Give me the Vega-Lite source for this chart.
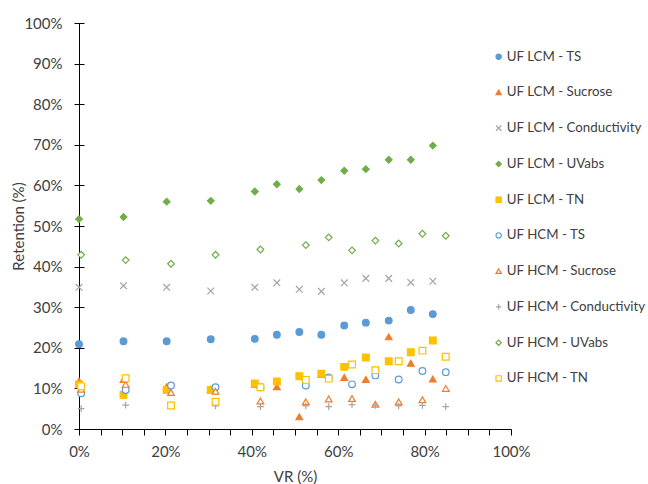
{
  "$schema": "https://vega.github.io/schema/vega-lite/v6.json",
  "width": 432,
  "height": 406,
  "autosize": {"type": "none"},
  "padding": {"left": 79, "top": 23, "right": 137, "bottom": 55},
  "background": "white",
  "config": {
    "view": {"stroke": null},
    "font": "Lato",
    "legend": {
      "title": null,
      "orient": "none",
      "legendX": 413,
      "legendY": 27,
      "padding": 0,
      "symbolSize": 28,
      "symbolStrokeWidth": 1.2,
      "labelFontSize": 13.3,
      "labelColor": "#404040",
      "labelOffset": 1.5,
      "rowPadding": 21.75,
      "labelLimit": 300
    }
  },
  "data": {"values": [
    {"series": "UF LCM - TS", "VR": 0, "Retention": 20.9},
    {"series": "UF LCM - TS", "VR": 10.3, "Retention": 21.6},
    {"series": "UF LCM - TS", "VR": 20.3, "Retention": 21.6},
    {"series": "UF LCM - TS", "VR": 30.5, "Retention": 22.1},
    {"series": "UF LCM - TS", "VR": 40.7, "Retention": 22.2},
    {"series": "UF LCM - TS", "VR": 45.8, "Retention": 23.2},
    {"series": "UF LCM - TS", "VR": 51.0, "Retention": 23.9},
    {"series": "UF LCM - TS", "VR": 56.1, "Retention": 23.2},
    {"series": "UF LCM - TS", "VR": 61.4, "Retention": 25.5},
    {"series": "UF LCM - TS", "VR": 66.4, "Retention": 26.2},
    {"series": "UF LCM - TS", "VR": 71.7, "Retention": 26.7},
    {"series": "UF LCM - TS", "VR": 76.8, "Retention": 29.3},
    {"series": "UF LCM - TS", "VR": 81.9, "Retention": 28.3},
    {"series": "UF LCM - Sucrose", "VR": 0, "Retention": 11.8},
    {"series": "UF LCM - Sucrose", "VR": 10.3, "Retention": 12.2},
    {"series": "UF LCM - Sucrose", "VR": 20.3, "Retention": 10.4},
    {"series": "UF LCM - Sucrose", "VR": 30.5, "Retention": 9.8},
    {"series": "UF LCM - Sucrose", "VR": 40.7, "Retention": 11.0},
    {"series": "UF LCM - Sucrose", "VR": 45.8, "Retention": 10.4},
    {"series": "UF LCM - Sucrose", "VR": 51.0, "Retention": 3.0},
    {"series": "UF LCM - Sucrose", "VR": 56.1, "Retention": 13.4},
    {"series": "UF LCM - Sucrose", "VR": 61.4, "Retention": 12.7},
    {"series": "UF LCM - Sucrose", "VR": 66.4, "Retention": 12.2},
    {"series": "UF LCM - Sucrose", "VR": 71.7, "Retention": 22.7},
    {"series": "UF LCM - Sucrose", "VR": 76.8, "Retention": 16.2},
    {"series": "UF LCM - Sucrose", "VR": 81.9, "Retention": 12.3},
    {"series": "UF LCM - Conductivity", "VR": 0, "Retention": 34.9},
    {"series": "UF LCM - Conductivity", "VR": 10.3, "Retention": 35.3},
    {"series": "UF LCM - Conductivity", "VR": 20.3, "Retention": 34.9},
    {"series": "UF LCM - Conductivity", "VR": 30.5, "Retention": 34.0},
    {"series": "UF LCM - Conductivity", "VR": 40.7, "Retention": 34.9},
    {"series": "UF LCM - Conductivity", "VR": 45.8, "Retention": 36.0},
    {"series": "UF LCM - Conductivity", "VR": 51.0, "Retention": 34.4},
    {"series": "UF LCM - Conductivity", "VR": 56.1, "Retention": 33.9},
    {"series": "UF LCM - Conductivity", "VR": 61.4, "Retention": 36.0},
    {"series": "UF LCM - Conductivity", "VR": 66.4, "Retention": 37.1},
    {"series": "UF LCM - Conductivity", "VR": 71.7, "Retention": 37.1},
    {"series": "UF LCM - Conductivity", "VR": 76.8, "Retention": 36.1},
    {"series": "UF LCM - Conductivity", "VR": 81.9, "Retention": 36.4},
    {"series": "UF LCM - UVabs", "VR": 0, "Retention": 51.7},
    {"series": "UF LCM - UVabs", "VR": 10.3, "Retention": 52.2},
    {"series": "UF LCM - UVabs", "VR": 20.3, "Retention": 56.0},
    {"series": "UF LCM - UVabs", "VR": 30.5, "Retention": 56.2},
    {"series": "UF LCM - UVabs", "VR": 40.7, "Retention": 58.5},
    {"series": "UF LCM - UVabs", "VR": 45.8, "Retention": 60.3},
    {"series": "UF LCM - UVabs", "VR": 51.0, "Retention": 59.1},
    {"series": "UF LCM - UVabs", "VR": 56.1, "Retention": 61.3},
    {"series": "UF LCM - UVabs", "VR": 61.4, "Retention": 63.6},
    {"series": "UF LCM - UVabs", "VR": 66.4, "Retention": 64.0},
    {"series": "UF LCM - UVabs", "VR": 71.7, "Retention": 66.3},
    {"series": "UF LCM - UVabs", "VR": 76.8, "Retention": 66.3},
    {"series": "UF LCM - UVabs", "VR": 81.9, "Retention": 69.8},
    {"series": "UF LCM - TN", "VR": 0, "Retention": 11.0},
    {"series": "UF LCM - TN", "VR": 10.3, "Retention": 8.4},
    {"series": "UF LCM - TN", "VR": 20.3, "Retention": 9.6},
    {"series": "UF LCM - TN", "VR": 30.5, "Retention": 9.6},
    {"series": "UF LCM - TN", "VR": 40.7, "Retention": 11.2},
    {"series": "UF LCM - TN", "VR": 45.8, "Retention": 11.7},
    {"series": "UF LCM - TN", "VR": 51.0, "Retention": 13.0},
    {"series": "UF LCM - TN", "VR": 56.1, "Retention": 13.6},
    {"series": "UF LCM - TN", "VR": 61.4, "Retention": 15.3},
    {"series": "UF LCM - TN", "VR": 66.4, "Retention": 17.6},
    {"series": "UF LCM - TN", "VR": 71.7, "Retention": 16.7},
    {"series": "UF LCM - TN", "VR": 76.8, "Retention": 18.9},
    {"series": "UF LCM - TN", "VR": 81.9, "Retention": 21.8},
    {"series": "UF HCM - TS", "VR": 0.5, "Retention": 8.8},
    {"series": "UF HCM - TS", "VR": 10.8, "Retention": 9.6},
    {"series": "UF HCM - TS", "VR": 21.3, "Retention": 10.7},
    {"series": "UF HCM - TS", "VR": 31.6, "Retention": 10.3},
    {"series": "UF HCM - TS", "VR": 42.0, "Retention": 10.3},
    {"series": "UF HCM - TS", "VR": 52.5, "Retention": 10.7},
    {"series": "UF HCM - TS", "VR": 57.8, "Retention": 12.7},
    {"series": "UF HCM - TS", "VR": 63.2, "Retention": 11.0},
    {"series": "UF HCM - TS", "VR": 68.6, "Retention": 13.2},
    {"series": "UF HCM - TS", "VR": 74.0, "Retention": 12.2},
    {"series": "UF HCM - TS", "VR": 79.5, "Retention": 14.3},
    {"series": "UF HCM - TS", "VR": 84.9, "Retention": 14.0},
    {"series": "UF HCM - Sucrose", "VR": 0.5, "Retention": 9.8},
    {"series": "UF HCM - Sucrose", "VR": 10.8, "Retention": 11.0},
    {"series": "UF HCM - Sucrose", "VR": 21.3, "Retention": 9.0},
    {"series": "UF HCM - Sucrose", "VR": 31.6, "Retention": 9.3},
    {"series": "UF HCM - Sucrose", "VR": 42.0, "Retention": 6.9},
    {"series": "UF HCM - Sucrose", "VR": 52.5, "Retention": 6.7},
    {"series": "UF HCM - Sucrose", "VR": 57.8, "Retention": 7.4},
    {"series": "UF HCM - Sucrose", "VR": 63.2, "Retention": 7.5},
    {"series": "UF HCM - Sucrose", "VR": 68.6, "Retention": 6.1},
    {"series": "UF HCM - Sucrose", "VR": 74.0, "Retention": 6.7},
    {"series": "UF HCM - Sucrose", "VR": 79.5, "Retention": 7.2},
    {"series": "UF HCM - Sucrose", "VR": 84.9, "Retention": 10.0},
    {"series": "UF HCM - Conductivity", "VR": 0.5, "Retention": 5.0},
    {"series": "UF HCM - Conductivity", "VR": 10.8, "Retention": 5.9},
    {"series": "UF HCM - Conductivity", "VR": 21.3, "Retention": 5.9},
    {"series": "UF HCM - Conductivity", "VR": 31.6, "Retention": 5.7},
    {"series": "UF HCM - Conductivity", "VR": 42.0, "Retention": 5.5},
    {"series": "UF HCM - Conductivity", "VR": 52.5, "Retention": 5.7},
    {"series": "UF HCM - Conductivity", "VR": 57.8, "Retention": 5.5},
    {"series": "UF HCM - Conductivity", "VR": 63.2, "Retention": 6.0},
    {"series": "UF HCM - Conductivity", "VR": 68.6, "Retention": 5.8},
    {"series": "UF HCM - Conductivity", "VR": 74.0, "Retention": 5.7},
    {"series": "UF HCM - Conductivity", "VR": 79.5, "Retention": 5.8},
    {"series": "UF HCM - Conductivity", "VR": 84.9, "Retention": 5.5},
    {"series": "UF HCM - UVabs", "VR": 0.5, "Retention": 42.9},
    {"series": "UF HCM - UVabs", "VR": 10.8, "Retention": 41.6},
    {"series": "UF HCM - UVabs", "VR": 21.3, "Retention": 40.7},
    {"series": "UF HCM - UVabs", "VR": 31.6, "Retention": 42.9},
    {"series": "UF HCM - UVabs", "VR": 42.0, "Retention": 44.2},
    {"series": "UF HCM - UVabs", "VR": 52.5, "Retention": 45.3},
    {"series": "UF HCM - UVabs", "VR": 57.8, "Retention": 47.2},
    {"series": "UF HCM - UVabs", "VR": 63.2, "Retention": 44.0},
    {"series": "UF HCM - UVabs", "VR": 68.6, "Retention": 46.4},
    {"series": "UF HCM - UVabs", "VR": 74.0, "Retention": 45.7},
    {"series": "UF HCM - UVabs", "VR": 79.5, "Retention": 48.1},
    {"series": "UF HCM - UVabs", "VR": 84.9, "Retention": 47.6},
    {"series": "UF HCM - TN", "VR": 0.5, "Retention": 10.5},
    {"series": "UF HCM - TN", "VR": 10.8, "Retention": 12.5},
    {"series": "UF HCM - TN", "VR": 21.3, "Retention": 5.8},
    {"series": "UF HCM - TN", "VR": 31.6, "Retention": 6.7},
    {"series": "UF HCM - TN", "VR": 42.0, "Retention": 10.3},
    {"series": "UF HCM - TN", "VR": 52.5, "Retention": 12.1},
    {"series": "UF HCM - TN", "VR": 57.8, "Retention": 12.4},
    {"series": "UF HCM - TN", "VR": 63.2, "Retention": 15.9},
    {"series": "UF HCM - TN", "VR": 68.6, "Retention": 14.5},
    {"series": "UF HCM - TN", "VR": 74.0, "Retention": 16.7},
    {"series": "UF HCM - TN", "VR": 79.5, "Retention": 19.3},
    {"series": "UF HCM - TN", "VR": 84.9, "Retention": 17.8}
  ]},
  "mark": {"type": "point", "filled": true, "size": 45, "strokeWidth": 1.2, "opacity": 1},
  "encoding": {
    "x": {
      "field": "VR", "type": "quantitative",
      "scale": {"domain": [0, 100], "nice": false, "zero": false},
      "axis": {
        "values": [0, 5, 10, 15, 20, 25, 30, 35, 40, 45, 50, 55, 60, 65, 70, 75, 80, 85, 90, 95, 100],
        "labelExpr": "datum.value % 20 === 0 ? datum.value + '%' : ''",
        "title": "VR (%)",
        "grid": false,
        "domainColor": "#000000",
        "domainWidth": 1,
        "tickColor": "#000000",
        "tickWidth": 1,
        "tickSize": 6,
        "labelPadding": 21.5,
        "labelBaseline": "alphabetic",
        "labelFontSize": 15,
        "labelColor": "#404040",
        "labelFlush": false,
        "labelOverlap": false,
        "titleFontSize": 15,
        "titleFontWeight": "normal",
        "titleColor": "#404040",
        "titleY": 52,
        "titleBaseline": "alphabetic",
        "encoding": {"ticks": {"y": {"signal": "datum.value % 20 === 0 ? -6 : -3.3"}, "y2": {"signal": "datum.value % 20 === 0 ? 6 : 3.3"}}}
      }
    },
    "y": {
      "field": "Retention", "type": "quantitative",
      "scale": {"domain": [0, 100], "nice": false},
      "axis": {
        "values": [0, 10, 20, 30, 40, 50, 60, 70, 80, 90, 100],
        "labelExpr": "datum.value + '%'",
        "title": "Retention (%)",
        "grid": false,
        "domainColor": "#000000",
        "domainWidth": 1,
        "tickColor": "#000000",
        "tickWidth": 1,
        "tickSize": 5,
        "labelPadding": 12,
        "labelFontSize": 15,
        "labelColor": "#404040",
        "labelFlush": false,
        "labelOverlap": false,
        "titleFontSize": 15,
        "titleFontWeight": "normal",
        "titleColor": "#404040",
        "titleX": -61,
        "titleY": 203,
        "titleBaseline": "middle",
        "titleAngle": -90,
        "encoding": {"ticks": {"x": {"value": 5}, "x2": {"value": -5}}}
      }
    },
    "shape": {
      "field": "series", "type": "nominal",
      "scale": {
        "domain": ["UF LCM - TS", "UF LCM - Sucrose", "UF LCM - Conductivity", "UF LCM - UVabs", "UF LCM - TN", "UF HCM - TS", "UF HCM - Sucrose", "UF HCM - Conductivity", "UF HCM - UVabs", "UF HCM - TN"],
        "range": ["circle", "triangle-up", "M-1,-1L1,1M-1,1L1,-1", "diamond", "square", "circle", "triangle-up", "M-1,0L1,0M0,-1L0,1", "diamond", "square"]
      },
      "legend": {"title": null}
    },
    "stroke": {
      "field": "series", "type": "nominal",
      "scale": {
        "domain": ["UF LCM - TS", "UF LCM - Sucrose", "UF LCM - Conductivity", "UF LCM - UVabs", "UF LCM - TN", "UF HCM - TS", "UF HCM - Sucrose", "UF HCM - Conductivity", "UF HCM - UVabs", "UF HCM - TN"],
        "range": ["#5B9BD5", "#ED7D31", "#A5A5A5", "#70AD47", "#FFC000", "#5B9BD5", "#ED7D31", "#A5A5A5", "#70AD47", "#FFC000"]
      },
      "legend": {"title": null}
    },
    "fill": {
      "field": "series", "type": "nominal",
      "scale": {
        "domain": ["UF LCM - TS", "UF LCM - Sucrose", "UF LCM - Conductivity", "UF LCM - UVabs", "UF LCM - TN", "UF HCM - TS", "UF HCM - Sucrose", "UF HCM - Conductivity", "UF HCM - UVabs", "UF HCM - TN"],
        "range": ["#5B9BD5", "#ED7D31", "#A5A5A5", "#70AD47", "#FFC000", "#FFFFFF", "#FFFFFF", "#FFFFFF", "#FFFFFF", "#FFFFFF"]
      },
      "legend": {"title": null}
    }
  }
}
